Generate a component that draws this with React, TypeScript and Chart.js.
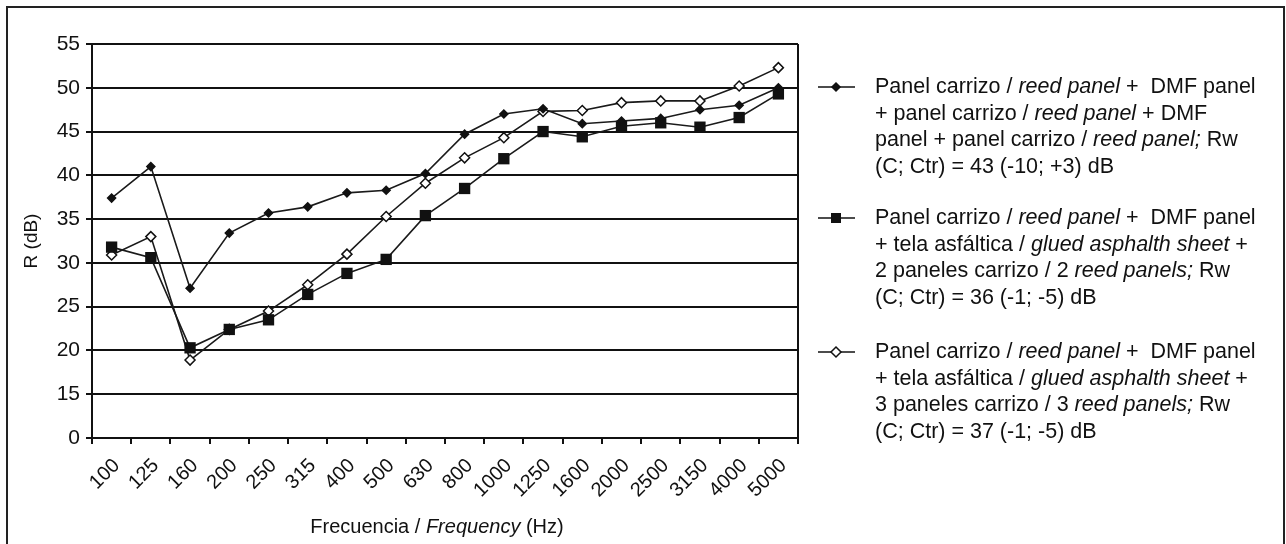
import React, { useEffect, useRef } from "react";
import { Chart, registerables } from "chart.js";

Chart.register(...registerables);

const categories = ["100", "125", "160", "200", "250", "315", "400", "500", "630", "800", "1000", "1250", "1600", "2000", "2500", "3150", "4000", "5000"];
const seriesDMF = [37.4, 41.0, 27.1, 33.4, 35.7, 36.4, 38.0, 38.3, 40.2, 44.7, 47.0, 47.6, 45.9, 46.2, 46.5, 47.5, 48.0, 50.0];
const seriesTwoPanels = [31.8, 30.6, 20.3, 22.4, 23.5, 26.4, 28.8, 30.4, 35.4, 38.5, 41.9, 45.0, 44.4, 45.6, 46.0, 45.5, 46.6, 49.3];
const seriesThreePanels = [30.9, 33.0, 18.9, 22.4, 24.5, 27.5, 31.0, 35.3, 39.1, 42.0, 44.3, 47.3, 47.4, 48.3, 48.5, 48.5, 50.2, 52.3];
const yTickLabels = ["0", "15", "20", "25", "30", "35", "40", "45", "50", "55"];
const yAxisTitle = "R (dB)";
const xAxisTitle: [string, boolean][] = [["Frecuencia / ", false], ["Frequency", true], [" (Hz)", false]];

type Seg = [string, boolean];
const legendDMF: Seg[][] = [
  [["Panel carrizo / ", false], ["reed panel", true], [" +  DMF panel", false]],
  [["+ panel carrizo / ", false], ["reed panel", true], [" + DMF", false]],
  [["panel + panel carrizo / ", false], ["reed panel;", true], [" Rw", false]],
  [["(C; Ctr) = 43 (-10; +3) dB", false]],
];
const legendTwoPanels: Seg[][] = [
  [["Panel carrizo / ", false], ["reed panel", true], [" +  DMF panel", false]],
  [["+ tela asfáltica / ", false], ["glued asphalth sheet", true], [" +", false]],
  [["2 paneles carrizo / 2 ", false], ["reed panels;", true], [" Rw", false]],
  [["(C; Ctr) = 36 (-1; -5) dB", false]],
];
const legendThreePanels: Seg[][] = [
  [["Panel carrizo / ", false], ["reed panel", true], [" +  DMF panel", false]],
  [["+ tela asfáltica / ", false], ["glued asphalth sheet", true], [" +", false]],
  [["3 paneles carrizo / 3 ", false], ["reed panels;", true], [" Rw", false]],
  [["(C; Ctr) = 37 (-1; -5) dB", false]],
];

const FONT = '"Liberation Sans", Arial, sans-serif';
const INK = "#111";

function drawMarker(ctx: CanvasRenderingContext2D, kind: string, x: number, y: number) {
  ctx.save();
  ctx.lineWidth = 1.5;
  ctx.strokeStyle = INK;
  if (kind === "square") {
    ctx.fillStyle = INK;
    ctx.fillRect(x - 5, y - 5, 10, 10);
  } else {
    const r = kind === "smallDiamond" ? 4 : 5;
    ctx.beginPath();
    ctx.moveTo(x, y - r);
    ctx.lineTo(x + r, y);
    ctx.lineTo(x, y + r);
    ctx.lineTo(x - r, y);
    ctx.closePath();
    ctx.fillStyle = kind === "smallDiamond" ? INK : "#fff";
    ctx.fill();
    ctx.stroke();
  }
  ctx.restore();
}

function drawSegs(ctx: CanvasRenderingContext2D, segs: Seg[], x: number, y: number, size: number) {
  let cx = x;
  for (const [t, it] of segs) {
    ctx.font = `${it ? "italic " : ""}${size}px ${FONT}`;
    ctx.fillText(t, cx, y);
    cx += ctx.measureText(t).width;
  }
  return cx - x;
}

const decorPlugin = {
  id: "decor",
  afterDraw(chart: any) {
    const ctx: CanvasRenderingContext2D = chart.ctx;
    const { chartArea } = chart;
    ctx.save();
    // outer frame
    ctx.strokeStyle = "#222";
    ctx.lineWidth = 2;
    ctx.strokeRect(7, 7, 1277, 560);
    // right border of plot area
    ctx.strokeStyle = INK;
    ctx.lineWidth = 2;
    ctx.beginPath();
    ctx.moveTo(chartArea.right, chartArea.top);
    ctx.lineTo(chartArea.right, chartArea.bottom);
    ctx.stroke();

    // x axis title (mixed styles)
    ctx.fillStyle = INK;
    ctx.textBaseline = "middle";
    ctx.textAlign = "left";
    let w = 0;
    for (const [t, it] of xAxisTitle) {
      ctx.font = `${it ? "italic " : ""}20px ${FONT}`;
      w += ctx.measureText(t).width;
    }
    drawSegs(ctx, xAxisTitle, 437 - w / 2, 527, 20);

    // legend
    const entries: [Seg[][], string, number][] = [
      [legendDMF, "smallDiamond", 87],
      [legendTwoPanels, "square", 218],
      [legendThreePanels, "openDiamond", 352],
    ];
    for (const [lines, kind, y0] of entries) {
      ctx.strokeStyle = INK;
      ctx.lineWidth = 1.5;
      ctx.beginPath();
      ctx.moveTo(818, y0);
      ctx.lineTo(855, y0);
      ctx.stroke();
      drawMarker(ctx, kind, 836, y0);
      ctx.fillStyle = INK;
      lines.forEach((segs, i) => drawSegs(ctx, segs, 875, y0 + i * 26.7, 21.5));
    }
    ctx.restore();
  },
};

export default function App() {
  const ref = useRef<HTMLCanvasElement | null>(null);
  useEffect(() => {
    if (!ref.current) return;
    const common = { borderColor: "#1a1a1a", borderWidth: 1.6, pointBorderColor: INK, pointBorderWidth: 1.5, tension: 0 };
    const chart = new Chart(ref.current, {
      type: "line",
      data: {
        labels: categories,
        datasets: [
          { ...common, label: "DMF", data: seriesDMF, pointStyle: "rectRot", pointRadius: 4, pointBackgroundColor: INK },
          { ...common, label: "2 paneles", data: seriesTwoPanels, pointStyle: "rect", pointRadius: 8, pointBorderWidth: 0, pointBackgroundColor: INK },
          { ...common, label: "3 paneles", data: seriesThreePanels, pointStyle: "rectRot", pointRadius: 5, pointBackgroundColor: "#fff" },
        ],
      },
      options: {
        responsive: false,
        animation: false,
        layout: { padding: { left: 16, top: 44, right: 488, bottom: 0 } },
        plugins: { legend: { display: false }, tooltip: { enabled: false }, title: { display: false } },
        scales: {
          x: {
            type: "category",
            offset: true,
            grid: { display: true, drawOnChartArea: false, drawTicks: true, tickLength: 6, color: INK, lineWidth: 2, offset: true },
            border: { display: true, color: INK, width: 2 },
            ticks: { autoSkip: false, minRotation: 45, maxRotation: 45, color: INK, font: { family: FONT, size: 20 }, padding: 10, labelOffset: 5 },
            afterFit: (scale: any) => { scale.height = 106; },
          },
          y: {
            type: "linear",
            min: 10,
            max: 55,
            ticks: {
              stepSize: 5,
              color: INK,
              padding: 6,
              font: { family: FONT, size: 21 },
              callback: (v: any) => yTickLabels[Math.round((Number(v) - 10) / 5)] ?? "",
            },
            grid: { color: INK, lineWidth: 2, tickLength: 6 },
            border: { display: true, color: INK, width: 2 },
            title: { display: true, text: yAxisTitle, color: INK, font: { family: FONT, size: 19 }, padding: { top: 4, bottom: 4 } },
            afterFit: (scale: any) => { scale.width = 76; },
          },
        },
      },
      plugins: [decorPlugin],
    } as any);
    return () => chart.destroy();
  }, []);
  return (
    <div style={{ position: "absolute", left: 0, top: 0, width: 1286, height: 544, background: "#fff" }}>
      <canvas ref={ref} width={1286} height={544} style={{ display: "block" }} />
    </div>
  );
}
